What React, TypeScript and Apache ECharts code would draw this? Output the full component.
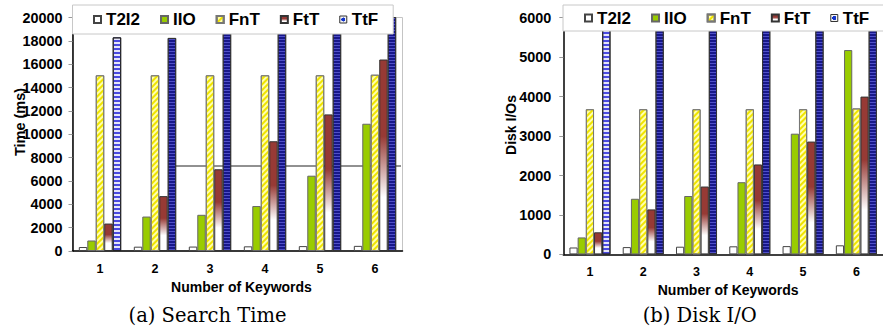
import React, { useEffect, useRef } from 'react';
import * as echarts from 'echarts';

// ---- data ----
const categories = ['1', '2', '3', '4', '5', '6'];
const seriesNames = ['T2I2', 'IIO', 'FnT', 'FtT', 'TtF'];

// (a) Search Time (ms)
const timeT2I2 = [340, 370, 380, 400, 420, 440];
const timeIIO = [900, 2950, 3100, 3850, 6450, 10900];
const timeFnT = [15050, 15050, 15050, 15050, 15050, 15100];
const timeFtT = [2350, 4700, 7000, 9400, 11700, 16400];
const timeTtF = [18300, 18250, 21000, 21000, 21000, 21000]; // 3..6 run past the axis top

// (b) Disk I/O
const ioT2I2 = [175, 185, 195, 205, 210, 230];
const ioIIO = [430, 1410, 1480, 1830, 3060, 5180];
const ioFnT = [3680, 3680, 3680, 3680, 3680, 3700];
const ioFtT = [560, 1140, 1720, 2280, 2860, 4000];
const ioTtF = [6500, 6500, 6500, 6500, 6500, 6500]; // all run past the axis top

const timeAxis = { min: 0, max: 20000, interval: 2000 };
const ioAxis = { min: 0, max: 6000, interval: 1000 };

const FONT = 'Arial, "Liberation Sans", Helvetica, sans-serif';

const ftTGradient = {
  type: 'linear', x: 0, y: 0, x2: 0, y2: 1,
  colorStops: [
    { offset: 0, color: '#973a35' },
    { offset: 0.4, color: '#973a35' },
    { offset: 0.72, color: '#ffffff' },
    { offset: 1, color: '#ffffff' },
  ],
};

const styles: Record<string, any> = {
  T2I2: { color: '#ffffff', borderColor: '#444', borderWidth: 1 },
  IIO: { color: '#99cc00', borderColor: '#666', borderWidth: 1 },
  FnT: {
    color: '#ffffb0', borderColor: '#777', borderWidth: 1,
    decal: { symbol: 'rect', symbolSize: 1, dashArrayX: [1, 0], dashArrayY: [1.5, 1.5], rotation: -Math.PI / 4, color: '#f0e400' },
  },
  FtT: { color: ftTGradient, borderColor: '#333', borderWidth: 1 },
  TtF: {
    color: '#17178a', borderColor: '#333', borderWidth: 1,
    decal: { symbol: 'rect', symbolSize: 1, dashArrayX: [1, 0], dashArrayY: [1, 2], color: '#5050c8' },
  },
};

const ttfFirstStyle = {
  color: '#e4e4fa', borderColor: '#222', borderWidth: 1,
  decal: { symbol: 'rect', symbolSize: 1, dashArrayX: [1, 0], dashArrayY: [2, 2], color: '#4a4ae0' },
};

const legendData = seriesNames.map((n) =>
  n === 'TtF'
    ? {
        name: n,
        itemStyle: {
          color: {
            type: 'radial', x: 0.5, y: 0.5, r: 0.5,
            colorStops: [
              { offset: 0, color: '#1133cc' },
              { offset: 0.55, color: '#1133cc' },
              { offset: 0.6, color: '#f4f4f4' },
              { offset: 1, color: '#f4f4f4' },
            ],
          },
          borderColor: '#333', borderWidth: 1, decal: 'none',
        },
      }
    : { name: n }
);

function makeSeries(values: number[][], idx: number) {
  return seriesNames.map((name, i) => ({
    type: 'bar',
    name,
    xAxisIndex: idx,
    yAxisIndex: idx,
    barGap: '0%',
    barCategoryGap: '23%',
    clip: true,
    itemStyle: styles[name],
    data: values[i].map((v, j) =>
      name === 'TtF' && j === 0 ? { value: v, itemStyle: ttfFirstStyle } : v
    ),
  }));
}

export default function App() {
  const ref = useRef<HTMLDivElement>(null);
  useEffect(() => {
    if (!ref.current) return;
    const chart = echarts.init(ref.current, undefined, { renderer: 'svg' });
    const legendCommon = {
      data: legendData,
      top: 5,
      icon: 'rect',
      itemWidth: 7,
      itemHeight: 7,
      itemGap: 20,
      backgroundColor: '#ffffff',
      borderColor: '#c8c8c8',
      borderWidth: 1,
      textStyle: { fontSize: 17, fontWeight: 'bold', color: '#000', fontFamily: FONT },
      z: 10,
    };
    const xCommon = {
      type: 'category',
      data: categories,
      axisLine: { lineStyle: { color: '#000', width: 1.5 } },
      axisTick: { length: 4, lineStyle: { color: '#aaa' } },
      axisLabel: { fontSize: 12.5, fontWeight: 'bold', color: '#000', fontFamily: FONT },
      name: 'Number of Keywords',
      nameLocation: 'middle',
      nameGap: 23,
    };
    const yCommon = {
      type: 'value',
      splitLine: { show: false },
      axisLine: { show: true, lineStyle: { color: '#000', width: 1.5 } },
      axisTick: { show: true, length: 4, lineStyle: { color: '#999' } },
    };
    const plain = (v: number) => String(v);
    chart.setOption({
      animation: false,
      textStyle: { fontFamily: FONT },
      grid: [
        { left: 72.5, top: 17.5, width: 330, height: 233.5, show: true, borderColor: '#c4c4c4', borderWidth: 1, backgroundColor: 'transparent' },
        { left: 563.3, top: 17.7, width: 333, height: 236.7 },
      ],
      legend: [
        { ...legendCommon, left: 72.5, padding: [6, 15, 6, 20.5] },
        { ...legendCommon, left: 563, width: 340, padding: [4.5, 30, 4.5, 21] },
      ],
      xAxis: [
        { ...xCommon, gridIndex: 0, axisLabel: { ...xCommon.axisLabel, margin: 11.5 },
          nameTextStyle: { fontSize: 14, fontWeight: 'bold', color: '#000', fontFamily: FONT, padding: [0, 0, 0, 8] } },
        { ...xCommon, gridIndex: 1, axisLabel: { ...xCommon.axisLabel, margin: 11 },
          nameTextStyle: { fontSize: 14, fontWeight: 'bold', color: '#000', fontFamily: FONT, padding: [0, 0, 0, 10] } },
      ],
      yAxis: [
        { ...yCommon, gridIndex: 0, ...timeAxis,
          axisLabel: { fontSize: 14.4, fontWeight: 'bold', color: '#000', margin: 10, fontFamily: FONT, formatter: plain } },
        { ...yCommon, gridIndex: 1, ...ioAxis,
          axisLabel: { fontSize: 14.4, fontWeight: 'bold', color: '#000', margin: 12, fontFamily: FONT, formatter: plain } },
      ],
      series: [
        ...makeSeries([timeT2I2, timeIIO, timeFnT, timeFtT, timeTtF], 0),
        ...makeSeries([ioT2I2, ioIIO, ioFnT, ioFtT, ioTtF], 1),
      ],
      graphic: [
        { type: 'line', z: 0, shape: { x1: 168, y1: 166, x2: 401, y2: 166 }, style: { stroke: '#222', lineWidth: 1 } },
        { type: 'text', x: 20, y: 122, rotation: Math.PI / 2,
          style: { text: 'Time (ms)', fill: '#000', font: 'bold 14.5px ' + FONT, textAlign: 'center', textVerticalAlign: 'middle' } },
        { type: 'text', x: 511, y: 125, rotation: Math.PI / 2,
          style: { text: 'Disk I/Os', fill: '#000', font: 'bold 14px ' + FONT, textAlign: 'center', textVerticalAlign: 'middle' } },
        { type: 'text', x: 207.5, y: 315,
          style: { text: '(a) Search Time', fill: '#000', font: '19.5px "DejaVu Serif", serif', textAlign: 'center', textVerticalAlign: 'middle' } },
        { type: 'text', x: 699.7, y: 315,
          style: { text: '(b) Disk I/O', fill: '#000', font: '19.5px "DejaVu Serif", serif', textAlign: 'center', textVerticalAlign: 'middle' } },
      ],
    });
    return () => chart.dispose();
  }, []);
  return (
    <div
      ref={ref}
      style={{ position: 'absolute', left: 0, top: 0, width: 883, height: 328, background: '#fff' }}
    />
  );
}
